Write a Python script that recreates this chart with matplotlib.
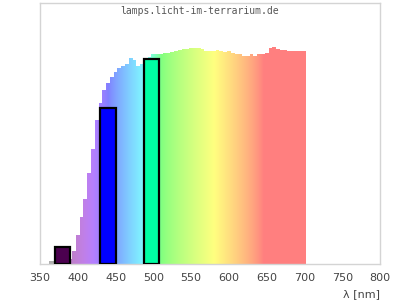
import numpy as np
import matplotlib
matplotlib.use("Agg")
import matplotlib.pyplot as plt

# spectrum (relative units, 5 nm steps)
wl = np.arange(360, 705, 5)
spec = [0.0, 0.01, 0.012, 0.013, 0.015, 0.017, 0.02, 0.05, 0.11, 0.18,
        0.25, 0.35, 0.44, 0.55, 0.615, 0.665, 0.695, 0.715, 0.735, 0.75,
        0.758, 0.765, 0.79, 0.78, 0.76, 0.765, 0.78, 0.795, 0.803, 0.806,
        0.806, 0.808, 0.81, 0.812, 0.818, 0.82, 0.822, 0.823, 0.826, 0.829,
        0.828, 0.825, 0.816, 0.815, 0.816, 0.82, 0.815, 0.814, 0.817, 0.808,
        0.806, 0.805, 0.796, 0.797, 0.805, 0.797, 0.805, 0.803, 0.81, 0.828,
        0.832, 0.822, 0.82, 0.82, 0.818, 0.817, 0.817, 0.817, 0.818]

# LED bars
bar_x = [380, 440, 498]
bar_h = [0.066, 0.599, 0.787]
bar_col = ["#4b004f", "#0000ff", "#00ffa4"]

xticks = [350, 400, 450, 500, 550, 600, 650, 700, 750, 800]


def wl_rgb(l):
    if l < 380:
        return (0.69, 0.69, 0.69)
    if l < 440:
        r, g, b = -(l - 440) / 60, 0.0, 1.0
    elif l < 490:
        r, g, b = 0.0, (l - 440) / 50, 1.0
    elif l < 510:
        r, g, b = 0.0, 1.0, -(l - 510) / 20
    elif l < 580:
        r, g, b = (l - 510) / 70, 1.0, 0.0
    elif l < 645:
        r, g, b = 1.0, -(l - 645) / 65, 0.0
    else:
        r, g, b = 1.0, 0.0, 0.0
    if l < 420:
        f = 0.3 + 0.7 * (l - 380) / 40
    else:
        f = 1.0
    c = np.array([r, g, b]) * f
    c = c ** 0.8
    return 0.5 * c + 0.5


fig = plt.figure(figsize=(4, 3), dpi=100)
ax = fig.add_axes([0.1, 0.12, 0.85, 0.87])

edges = np.append(wl - 2.5, wl[-1] + 2.5)
patch = ax.stairs(spec, edges, fill=True, color="none", lw=0, baseline=0)

grad_x = np.linspace(edges[0], edges[-1], 400)
img = np.array([[wl_rgb(l) for l in grad_x]])
im = ax.imshow(img, extent=[edges[0], edges[-1], 0, 1], aspect="auto",
               interpolation="bilinear", zorder=1)
im.set_clip_path(patch)

ax.bar(bar_x, bar_h, width=20, color=bar_col, edgecolor="black",
       linewidth=1.6, zorder=3)

ax.set_xlim(350, 800)
ax.set_ylim(0, 1)
ax.set_xticks(xticks)
ax.set_yticks([])
ax.tick_params(axis="x", length=0, pad=6.5, labelsize=8, labelcolor="#444444")
for s in ax.spines.values():
    s.set_color("#d4d4d4")
    s.set_linewidth(1)

ax.text(1.0, -0.115, "λ [nm]", transform=ax.transAxes, ha="right",
        va="center", fontsize=8, color="#444444")
fig.text(0.5, 1 - 11.5 / 300, "lamps.licht-im-terrarium.de", ha="center",
         va="center", family="DejaVu Sans Mono", fontsize=7, color="#555555")

fig.savefig("out.png", dpi=100)
